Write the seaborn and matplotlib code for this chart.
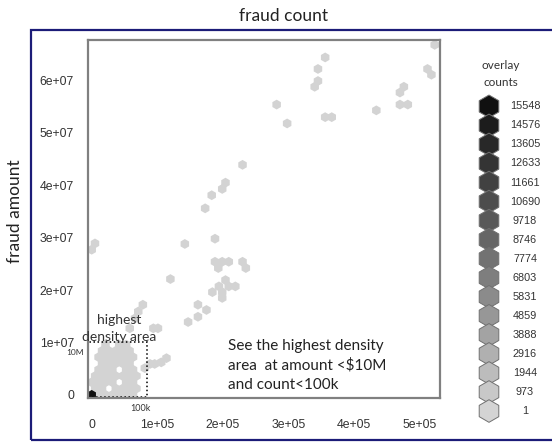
import pandas as pd
import matplotlib.pyplot as plt
import seaborn as sns
from matplotlib.colors import LinearSegmentedColormap, Normalize
from matplotlib.patches import Rectangle

# hex cell centres: fraud count (x) and fraud amount (y)
fraud_count = [
    # sparse cells along the diagonal
    5.23e5, 3.56e5, 3.45e5, 3.45e5, 3.40e5, 5.12e5, 5.18e5, 4.76e5, 4.70e5, 4.70e5,
    4.82e5, 4.34e5, 2.82e5, 2.98e5, 3.56e5, 3.66e5, 2.30e5, 2.04e5, 1.99e5, 1.83e5,
    1.73e5, 0.05e5, 0.00e5, 1.42e5, 1.88e5, 1.88e5, 1.99e5, 2.09e5, 1.93e5, 2.30e5,
    2.35e5, 1.20e5, 2.04e5, 2.09e5, 2.19e5, 1.94e5, 1.84e5, 1.99e5, 1.99e5, 1.62e5,
    1.75e5, 1.62e5, 1.47e5, 0.78e5, 0.71e5, 0.66e5, 0.58e5, 0.94e5, 1.01e5, 1.14e5,
    1.06e5, 0.96e5, 0.89e5, 0.81e5,
    # dense block under 100k / 10M
    0.0, 10500, 21000, 31500, 42000, 52500, 63000,
    5250, 15750, 36750, 47250, 57750, 68250,
    0.0, 10500, 21000, 31500, 52500, 63000,
    5250, 15750, 26250, 36750, 47250, 57750, 68250,
    10500, 21000, 31500, 52500, 63000,
    15750, 26250, 36750, 47250, 57750,
    10500, 21000, 31500, 42000, 52500, 63000,
    15750, 26250, 36750, 47250, 57750,
    21000, 42000, 52500,
]
fraud_amount = [
    6.68e7, 6.44e7, 6.22e7, 5.99e7, 5.88e7, 6.22e7, 6.11e7, 5.88e7, 5.77e7, 5.54e7,
    5.54e7, 5.43e7, 5.54e7, 5.18e7, 5.30e7, 5.30e7, 4.39e7, 4.05e7, 3.93e7, 3.81e7,
    3.56e7, 2.89e7, 2.77e7, 2.88e7, 2.98e7, 2.54e7, 2.54e7, 2.54e7, 2.42e7, 2.54e7,
    2.42e7, 2.21e7, 2.19e7, 2.07e7, 2.07e7, 2.07e7, 1.96e7, 1.96e7, 1.85e7, 1.72e7,
    1.62e7, 1.49e7, 1.39e7, 1.72e7, 1.59e7, 1.46e7, 1.27e7, 1.27e7, 1.27e7, 0.70e7,
    0.62e7, 0.59e7, 0.59e7, 0.51e7,
    0.0, 0.0, 0.0, 0.0, 0.0, 0.0, 0.0,
    1.2e6, 1.2e6, 1.2e6, 1.2e6, 1.2e6, 1.2e6,
    2.4e6, 2.4e6, 2.4e6, 2.4e6, 2.4e6, 2.4e6,
    3.6e6, 3.6e6, 3.6e6, 3.6e6, 3.6e6, 3.6e6, 3.6e6,
    4.8e6, 4.8e6, 4.8e6, 4.8e6, 4.8e6,
    6.0e6, 6.0e6, 6.0e6, 6.0e6, 6.0e6,
    7.2e6, 7.2e6, 7.2e6, 7.2e6, 7.2e6, 7.2e6,
    8.4e6, 8.4e6, 8.4e6, 8.4e6, 8.4e6,
    9.6e6, 9.6e6, 9.6e6,
]
# overlay count per cell, only the origin cell is heavy
cell_overlay = [15548 if (c == 0.0 and a == 0.0) else 120 for c, a in zip(fraud_count, fraud_amount)]

legend_counts = [15548, 14576, 13605, 12633, 11661, 10690, 9718, 8746, 7774,
                 6803, 5831, 4859, 3888, 2916, 1944, 973, 1]

x_ticks = [0, 1e5, 2e5, 3e5, 4e5, 5e5]
x_labels = ['0', '1e+05', '2e+05', '3e+05', '4e+05', '5e+05']
y_ticks = [0, 1e7, 2e7, 3e7, 4e7, 5e7, 6e7]
y_labels = ['0', '1e+07', '2e+07', '3e+07', '4e+07', '5e+07', '6e+07']

df = pd.DataFrame({'count': fraud_count, 'amount': fraud_amount, 'overlay': cell_overlay})

sns.set_style('white')
plt.rcParams['font.family'] = ['Lato', 'DejaVu Sans']

grey_map = LinearSegmentedColormap.from_list('overlay', ['#d4d4d4', '#101010'])
norm = Normalize(vmin=1, vmax=15548)

fig = plt.figure(figsize=(5.52, 4.46), dpi=100)
ax = fig.add_axes([0.159, 0.108, 0.638, 0.802])

# light cells first, then the dark origin cell on top
df = df.sort_values('overlay')
sns.scatterplot(data=df, x='count', y='amount', hue='overlay', palette=grey_map,
                hue_norm=norm, marker='h', s=50, linewidth=0, legend=False, ax=ax)

ax.set_xlim(-6000, 5.31e5)
ax.set_ylim(-5.7e5, 6.77e7)
ax.set_xticks(x_ticks)
ax.set_xticklabels(x_labels, family='Liberation Sans')
ax.set_yticks(y_ticks)
ax.set_yticklabels(y_labels, family='Liberation Sans')
ax.tick_params(axis='both', length=5, width=1.2, color='#555555', labelsize=8.8,
               labelcolor='#333333', direction='out')
ax.tick_params(axis='x', pad=10)
ax.tick_params(axis='y', pad=5)
ax.set_xlabel('')
ax.set_ylabel('')
for sp in ax.spines.values():
    sp.set_color('#808080')
    sp.set_linewidth(1.6)

# dotted box round the dense area
ax.add_patch(Rectangle((-6000, -4e5), 0.84e5 + 6000, 1.0e7 + 4e5, fill=False,
                       linestyle=':', linewidth=1.1, edgecolor='black', clip_on=False))
ax.text(0.42e5, 1.42e7, 'highest', ha='center', va='center', fontsize=10, color='#333333')
ax.text(0.42e5, 1.1e7, 'density area', ha='center', va='center', fontsize=10, color='#333333')
ax.text(-0.26e5, 0.8e7, '10M', ha='center', va='center', fontsize=6, color='#333333',
        clip_on=False)
ax.text(0.74e5, -2.7e6, '100k', ha='center', va='center', fontsize=6.5, color='#333333',
        clip_on=False)
ax.text(2.08e5, 1.06e7, 'See the highest density\narea  at amount <$10M\nand count<100k',
        ha='left', va='top', fontsize=11, color='#222222', linespacing=1.45)

fig.text(0.513, 0.964, 'fraud count', ha='center', va='center', fontsize=12.5, color='#222222')
fig.text(0.028, 0.527, 'fraud amount', ha='center', va='center', rotation=90,
         fontsize=12.5, color='#222222')

# navy border round the plot panel
fig.patches.append(Rectangle((0.056, 0.014), 1.0, 0.919, transform=fig.transFigure,
                             fill=False, edgecolor='#1c1c78', linewidth=1.6))

# overlay counts key, stacked hexagons
lax = fig.add_axes([464 / 552, 0.04, 88 / 552, 0.76])
key = pd.DataFrame({'x': [25] * len(legend_counts),
                    'y': list(range(len(legend_counts) - 1, -1, -1)),
                    'overlay': legend_counts})
sns.scatterplot(data=key, x='x', y='y', hue='overlay', palette=grey_map, hue_norm=norm,
                marker='h', s=265, edgecolor='#707070', linewidth=0.7, legend=False, ax=lax)
lax.set_xlim(0, 88)
lax.set_ylim(-0.9, len(legend_counts) - 0.1)
lax.axis('off')
for yy, v in zip(key['y'], key['overlay']):
    lax.text(61, yy, str(v), ha='center', va='center', fontsize=7.8,
             family='Liberation Sans', color='#333333', clip_on=False)
fig.text(0.907, 0.853, 'overlay', ha='center', va='center', fontsize=8.5, color='#333333')
fig.text(0.907, 0.815, 'counts', ha='center', va='center', fontsize=8.5, color='#333333')

plt.savefig('out.png', dpi=100)
